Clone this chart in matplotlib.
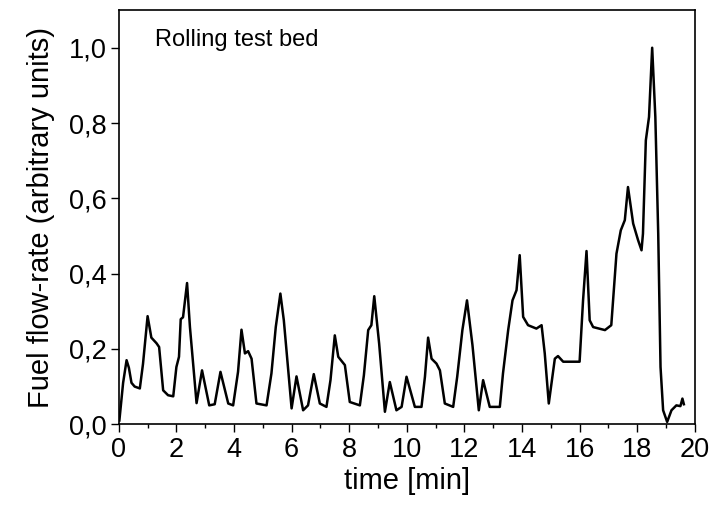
import matplotlib
matplotlib.use("Agg")
import matplotlib.pyplot as plt
from matplotlib.ticker import MultipleLocator

plt.rcParams['font.family'] = ['Liberation Sans', 'DejaVu Sans']

# time [min] and fuel flow-rate
time_min = [0.02, 0.15, 0.27, 0.35, 0.44, 0.55, 0.73, 0.84, 1.0, 1.13, 1.31, 1.40, 1.54,
            1.71, 1.89, 2.0, 2.09, 2.15, 2.23, 2.37, 2.47, 2.70, 2.89, 3.14, 3.33,
            3.53, 3.80, 3.97, 4.14, 4.26, 4.38, 4.49, 4.61, 4.78, 5.13, 5.30, 5.45,
            5.61, 5.73, 6.0, 6.17, 6.40, 6.57, 6.77, 6.98, 7.21, 7.35, 7.5, 7.62,
            7.85, 8.02, 8.37, 8.51, 8.66, 8.77, 8.87, 9.04, 9.24, 9.41, 9.64, 9.82,
            9.99, 10.28, 10.51, 10.63, 10.74, 10.86, 11.03, 11.15, 11.32, 11.61,
            11.75, 11.93, 12.09, 12.28, 12.5, 12.65, 12.88, 13.23, 13.34, 13.52,
            13.67, 13.81, 13.92, 14.04, 14.21, 14.5, 14.68, 14.79, 14.93, 15.14,
            15.25, 15.43, 16.0, 16.12, 16.24, 16.35, 16.47, 16.88, 17.1, 17.28,
            17.43, 17.57, 17.68, 17.86, 18.03, 18.15, 18.2, 18.3, 18.41, 18.52,
            18.63, 18.73, 18.81, 18.9, 19.04, 19.19, 19.36, 19.5, 19.57, 19.62]
flow = [0.01, 0.11, 0.17, 0.15, 0.11, 0.10, 0.095, 0.16, 0.287, 0.23, 0.215, 0.205, 0.09,
        0.077, 0.074, 0.152, 0.179, 0.279, 0.284, 0.375, 0.258, 0.056, 0.143, 0.05, 0.053,
        0.139, 0.055, 0.05, 0.139, 0.251, 0.188, 0.194, 0.174, 0.055, 0.05, 0.135, 0.258,
        0.347, 0.276, 0.042, 0.127, 0.037, 0.05, 0.133, 0.055, 0.046, 0.117, 0.236, 0.179,
        0.157, 0.059, 0.05, 0.13, 0.25, 0.263, 0.34, 0.214, 0.033, 0.112, 0.037, 0.046,
        0.126, 0.046, 0.046, 0.126, 0.23, 0.174, 0.161, 0.143, 0.055, 0.046,
        0.126, 0.25, 0.329, 0.21, 0.037, 0.117, 0.046, 0.046, 0.135, 0.25,
        0.329, 0.356, 0.449, 0.285, 0.263, 0.254, 0.263, 0.188, 0.055, 0.174,
        0.181, 0.166, 0.166, 0.329, 0.46, 0.276, 0.258, 0.25, 0.263, 0.453,
        0.515, 0.542, 0.63, 0.533, 0.489, 0.462, 0.506, 0.754, 0.816, 1.0,
        0.816, 0.506, 0.152, 0.037, 0.006, 0.037, 0.05, 0.048, 0.068, 0.053]

x_ticks = [0, 2, 4, 6, 8, 10, 12, 14, 16, 18, 20]
y_ticks = [0.0, 0.2, 0.4, 0.6, 0.8, 1.0]
y_ticklabels = ["0,0", "0,2", "0,4", "0,6", "0,8", "1,0"]

fig = plt.figure(figsize=(7.2, 5.05), dpi=100)
ax = fig.add_axes([0.165, 0.160, 0.800, 0.820])

ax.plot(time_min, flow, color='black', lw=1.8)

ax.set_xlim(0, 20)
ax.set_ylim(0, 1.1)
ax.set_xticks(x_ticks)
ax.set_xticklabels([str(t) for t in x_ticks])
ax.xaxis.set_minor_locator(MultipleLocator(1))
ax.set_yticks(y_ticks)
ax.set_yticklabels(y_ticklabels)

ax.tick_params(axis='both', which='major', direction='out', length=6, width=1,
               labelsize=19.5, pad=3)
ax.tick_params(axis='x', which='minor', direction='out', length=3, width=1)
for s in ax.spines.values():
    s.set_linewidth(1.2)

ax.set_xlabel("time [min]", fontsize=21, labelpad=3)
ax.set_ylabel("Fuel flow-rate (arbitrary units)", fontsize=21, labelpad=10)

ax.text(0.0625, 0.913, "Rolling test bed", transform=ax.transAxes,
        fontsize=17, va='baseline', ha='left')

fig.savefig("out.png", dpi=100)
